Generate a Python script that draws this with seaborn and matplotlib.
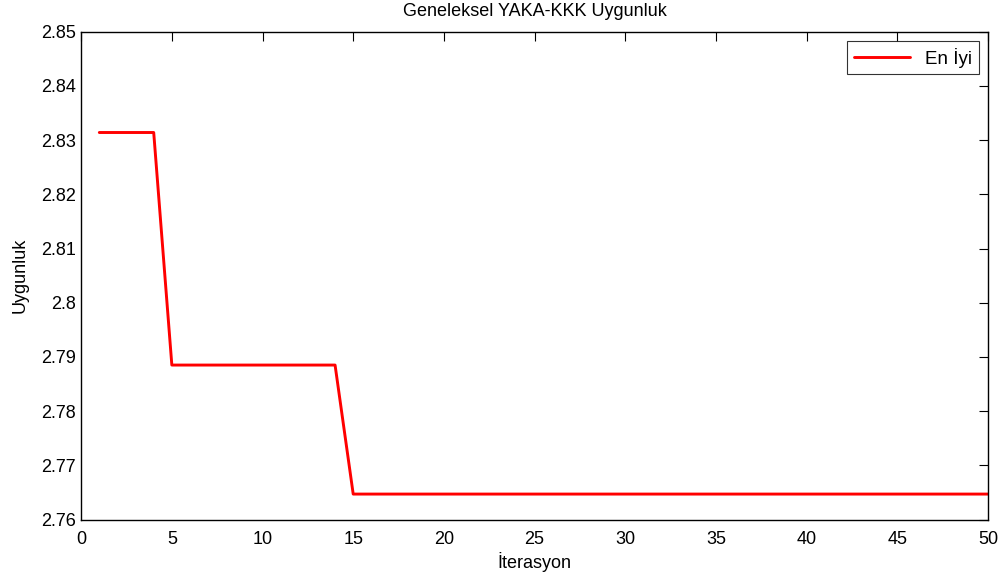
import numpy as np
import pandas as pd
import matplotlib
matplotlib.use("Agg")
import matplotlib.pyplot as plt
import seaborn as sns

# Best fitness per iteration
iterations = list(range(1, 51))
best_fitness = [2.8314] * 4 + [2.7885] * 10 + [2.7647] * 36

sns.set_style("white")
plt.rcParams["font.family"] = ["Liberation Sans", "DejaVu Sans"]
plt.rcParams["text.color"] = "black"
plt.rcParams["axes.labelcolor"] = "black"

df = pd.DataFrame({"İterasyon": iterations, "Uygunluk": best_fitness})

fig = plt.figure(figsize=(10.02, 5.76), dpi=100)
ax = fig.add_axes([0.081, 0.098, 0.905, 0.847])

sns.lineplot(data=df, x="İterasyon", y="Uygunluk", color="red", linewidth=2.1,
             label="En İyi", ax=ax)

ax.set_xlim(0, 50)
ax.set_ylim(2.76, 2.85)
ax.set_xticks(np.arange(0, 51, 5))
ax.set_yticks(np.arange(2.76, 2.851, 0.01))
ax.set_yticklabels(["2.76", "2.77", "2.78", "2.79", "2.8", "2.81", "2.82", "2.83", "2.84", "2.85"])

ax.tick_params(direction="in", length=6.5, width=0.8, top=True, right=True,
               labelsize=13, colors="black")
ax.tick_params(axis="x", pad=8)
ax.tick_params(axis="y", pad=4)
for side in ax.spines.values():
    side.set_visible(True)
    side.set_color("black")
    side.set_linewidth(1.0)

fig.text(0.081 + 0.905 / 2, 1 - 12 / 576, "Geneleksel YAKA-KKK Uygunluk",
         fontsize=13, ha="center", va="center", color="black")
ax.set_xlabel("İterasyon", fontsize=13, labelpad=3)
ax.set_ylabel("Uygunluk", fontsize=13, labelpad=9)

leg = ax.legend(loc="upper right", fontsize=13.5, frameon=True, fancybox=False,
                edgecolor="black", borderaxespad=0.5, handlelength=3.0,
                borderpad=0.35)
leg.get_frame().set_linewidth(0.8)

fig.savefig("out.png", dpi=100)
